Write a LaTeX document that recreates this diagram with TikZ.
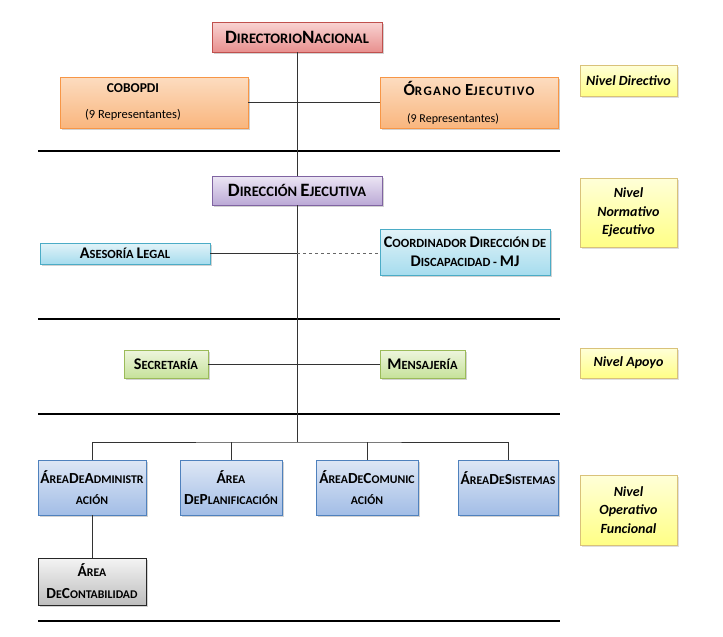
\documentclass[tikz,border=0pt]{standalone}
\usepackage{fontspec}
\setmainfont{Carlito}
\usetikzlibrary{shadows}

\definecolor{pinkline}{HTML}{C0504D}\definecolor{pinktop}{HTML}{F9D3D2}\definecolor{pinkbot}{HTML}{E8908E}
\definecolor{orgline}{HTML}{F79646}\definecolor{orgtop}{HTML}{FCDCC0}\definecolor{orgbot}{HTML}{F9B67E}
\definecolor{purline}{HTML}{8064A2}\definecolor{purtop}{HTML}{ECE6F4}\definecolor{purbot}{HTML}{BBA9D6}
\definecolor{cyaline}{HTML}{4BACC6}\definecolor{cyatop}{HTML}{E2F3F8}\definecolor{cyabot}{HTML}{A6DCEE}
\definecolor{grnline}{HTML}{9BBB59}\definecolor{grntop}{HTML}{EEF5DE}\definecolor{grnbot}{HTML}{C6E29A}
\definecolor{bluline}{HTML}{4F81BD}\definecolor{blutop}{HTML}{DEE7F5}\definecolor{blubot}{HTML}{A2BDE6}
\definecolor{gryline}{HTML}{262626}\definecolor{grytop}{HTML}{F4F4F4}\definecolor{grybot}{HTML}{BDBDBD}
\definecolor{yelline}{HTML}{D9C27A}\definecolor{yeltop}{HTML}{FFFFD8}\definecolor{yelbot}{HTML}{FFFF86}

% fake small caps: first letters a bit larger
\makeatletter
\newcommand\up[1]{{\@tempdima=\f@size pt \@tempdima=1.3\@tempdima
  \fontsize{\strip@pt\@tempdima}{\strip@pt\@tempdima}\selectfont #1}}
\makeatother

\begin{document}
\begin{tikzpicture}[x=1pt, y=-1pt,
    unit/.style={rectangle, inner sep=2pt, align=center,
      font=\bfseries\fontsize{12.5}{19}\selectfont,
      drop shadow={opacity=0.35, shadow xshift=1.5pt, shadow yshift=-1.5pt}},
    pinkbox/.style={unit, draw=pinkline, top color=pinktop, bottom color=pinkbot},
    orgbox/.style={unit, draw=orgline, top color=orgtop, bottom color=orgbot},
    purbox/.style={unit, draw=purline, top color=purtop, bottom color=purbot},
    cyabox/.style={unit, draw=cyaline, top color=cyatop, bottom color=cyabot},
    grnbox/.style={unit, draw=grnline, top color=grntop, bottom color=grnbot},
    blubox/.style={unit, draw=bluline, top color=blutop, bottom color=blubot,
      minimum height=55pt, font=\bfseries\fontsize{11.8}{21}\selectfont},
    grybox/.style={unit, draw=gryline, top color=grytop, bottom color=grybot,
      minimum height=47pt, font=\bfseries\fontsize{11.8}{22}\selectfont},
    level/.style={rectangle, draw=yelline, top color=yeltop, bottom color=yelbot,
      minimum width=97pt, align=center, inner sep=2pt,
      font=\bfseries\itshape\fontsize{14}{18.5}\selectfont,
      drop shadow={opacity=0.25, shadow xshift=1.5pt, shadow yshift=-1.5pt}},
    link/.style={black!80, line width=0.7pt},
    rule/.style={line width=2.6pt}]
  \useasboundingbox[fill=white] (0,0) rectangle (723,637);

  % level separators
  \foreach \yy in {151,319,414,621}
    \draw[rule] (38,\yy) -- (560,\yy);

  % nivel directivo
  \node[pinkbox, minimum width=170pt, minimum height=30pt, font=\bfseries\fontsize{14.5}{16}\selectfont]
    (dn) at (297,37) {\up{D}IRECTORIO\up{N}ACIONAL};
  \node[orgbox, minimum width=188pt, minimum height=51pt, font=\bfseries\fontsize{13.5}{14}\selectfont]
    (cob) at (154,102.5)
    {COBOPDI\hspace*{42pt}\\[12pt]{\mdseries\fontsize{12.5}{13}\selectfont(9 Representantes)}\hspace*{42pt}};
  \node[orgbox, minimum width=178pt, minimum height=51pt,
    font=\bfseries\fontsize{13}{14}\selectfont\addfontfeature{LetterSpace=10}] (oe) at (469,102.5)
    {\up{Ó}RGANO \up{E}JECUTIVO\\[13pt]{\mdseries\fontsize{12}{13}\selectfont\addfontfeature{LetterSpace=0}(9 Representantes)\hspace*{32pt}}};
  \node[level, minimum height=31pt] (ndir) at (628.5,80.5) {Nivel Directivo};

  % nivel normativo ejecutivo
  \node[purbox, minimum width=170pt, minimum height=29pt, font=\bfseries\fontsize{14.5}{16}\selectfont]
    (de) at (297,190.5) {\up{D}IRECCIÓN \up{E}JECUTIVA};
  \node[cyabox, minimum width=170pt, minimum height=21pt] (al) at (125,253.5)
    {\up{A}SESORÍA \up{L}EGAL};
  \node[cyabox, minimum width=170pt, minimum height=46pt] (cdd) at (465,252)
    {\up{C}OORDINADOR \up{D}IRECCIÓN DE\\\up{D}ISCAPACIDAD - \up{MJ}};
  \node[level, minimum height=69pt] (nnor) at (628.5,212.5) {Nivel\\Normativo\\Ejecutivo};

  % nivel apoyo
  \node[grnbox, minimum width=84pt, minimum height=28pt] (sec) at (166,364) {\up{S}ECRETARÍA};
  \node[grnbox, minimum width=85pt, minimum height=28pt] (men) at (422.5,364) {\up{M}ENSAJERÍA};
  \node[level, minimum height=30pt] (napo) at (628.5,363) {Nivel Apoyo};

  % nivel operativo funcional
  \node[blubox, minimum width=108pt] (adm) at (92,487.5) {\up{Á}REA\up{D}E\up{A}DMINISTR\\ACIÓN};
  \node[blubox, minimum width=102pt] (pla) at (231,487.5) {\up{Á}REA\\\up{D}E\up{P}LANIFICACIÓN};
  \node[blubox, minimum width=102pt] (com) at (367,487.5) {\up{Á}REA\up{D}E\up{C}OMUNIC\\ACIÓN};
  \node[blubox, minimum width=100pt] (sis) at (508,487.5) {\up{Á}REA\up{D}E\up{S}ISTEMAS\\[-8pt]\strut};
  \node[grybox, minimum width=108pt] (con) at (92,581.5) {\up{Á}REA\\\up{D}E\up{C}ONTABILIDAD};
  \node[level, minimum height=70pt] (nope) at (628.5,510) {Nivel\\Operativo\\Funcional};

  % connectors
  \coordinate (jn) at (297,442);
  \draw[link] (dn) -- (de);
  \draw[link] (de) -- (jn);
  \draw[link] (cob.east) -- (oe.west);
  \draw[link] (al.east) -- (al.east -| de.south);
  \draw[link, dashed, black!60] (al.east -| de.south) -- (cdd.west |- al.east);
  \draw[link] (sec.east) -- (men.west);
  \draw[link] (adm.north) |- (jn) -| (sis.north);
  \draw[link] (pla.north) -- (pla.north |- jn);
  \draw[link] (com.north) -- (com.north |- jn);
  \draw[link] (adm) -- (con);
\end{tikzpicture}
\end{document}
